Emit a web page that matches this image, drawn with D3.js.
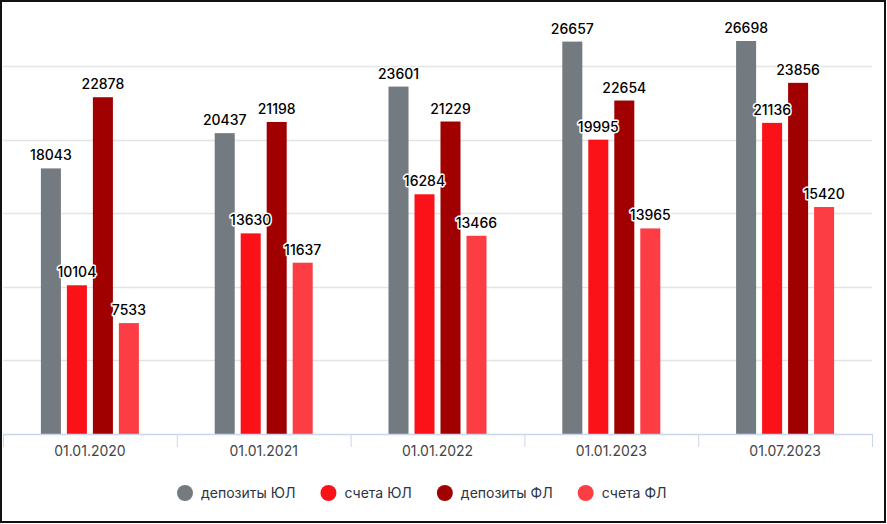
<!DOCTYPE html>
<html>
<head>
<meta charset="utf-8">
<script src="https://cdn.jsdelivr.net/npm/d3@7"></script>
<style>
  body { margin: 0; background: #fff; }
  svg { display: block; font-family: Inter, "Noto Sans", sans-serif; }
</style>
</head>
<body>
<div id="chart"></div>
<script>
var categories = ['01.01.2020', '01.01.2021', '01.01.2022', '01.01.2023', '01.07.2023'];
var seriesNames = ['депозиты ЮЛ', 'счета ЮЛ', 'депозиты ФЛ', 'счета ФЛ'];
var depositsUL = [18043, 20437, 23601, 26657, 26698];
var accountsUL = [10104, 13630, 16284, 19995, 21136];
var depositsFL = [22878, 21198, 21229, 22654, 23856];
var accountsFL = [7533, 11637, 13466, 13965, 15420];
var gridTicks = [5000, 10000, 15000, 20000, 25000];
var colors = ['#737a80', '#fb1219', '#a00000', '#fc3d43'];

var series = [depositsUL, accountsUL, depositsFL, accountsFL];

var chart_width = 887;
var chart_height = 524;
var plot_left = 3;
var plot_right = 872;
var base_y = 434;

var svg = d3.select('#chart')
  .append('svg')
  .attr('width', chart_width)
  .attr('height', chart_height);

// Scales
var xScale = d3.scaleBand()
  .domain(categories)
  .range([plot_left, plot_right]);

var xInner = d3.scaleBand()
  .domain(d3.range(series.length))
  .range([0, 98])
  .paddingInner(0.23);

var yScale = d3.scaleLinear()
  .domain([0, 25000])
  .range([base_y, 66]);

// Gridlines
svg.append('g')
  .selectAll('line')
  .data(gridTicks)
  .enter()
  .append('line')
  .attr('x1', plot_left)
  .attr('x2', plot_right)
  .attr('y1', d => Math.round(yScale(d)) + 0.5)
  .attr('y2', d => Math.round(yScale(d)) + 0.5)
  .attr('stroke', '#e4e4e4')
  .attr('stroke-width', 1.5);

// Bars
var groups = svg.selectAll('g.cat')
  .data(categories)
  .enter()
  .append('g')
  .attr('class', 'cat')
  .attr('transform', d => 'translate(' + (xScale(d) + (xScale.bandwidth() - 98) / 2) + ',0)');

groups.selectAll('rect')
  .data((d, i) => series.map((s, j) => ({ v: s[i], j: j })))
  .enter()
  .append('rect')
  .attr('x', d => xInner(d.j))
  .attr('y', d => yScale(d.v))
  .attr('width', xInner.bandwidth())
  .attr('height', d => base_y - yScale(d.v))
  .attr('fill', d => colors[d.j]);

// X axis
var xAxis = d3.axisBottom(xScale)
  .tickSize(0)
  .tickPadding(12);

var axisG = svg.append('g')
  .attr('transform', 'translate(0,' + base_y + ')')
  .call(xAxis);
axisG.select('.domain').attr('stroke', '#ccd6eb').attr('stroke-width', 1.5);
axisG.selectAll('text')
  .attr('font-size', 14)
  .attr('fill', '#444')
  .attr('font-family', 'Inter, sans-serif');

// tick marks on band edges
var edges = categories.map(c => xScale(c)).concat([plot_right]);
axisG.selectAll('line.edge')
  .data(edges)
  .enter()
  .append('line')
  .attr('class', 'edge')
  .attr('x1', d => d + 0.5)
  .attr('x2', d => d + 0.5)
  .attr('y1', 0)
  .attr('y2', 13)
  .attr('stroke', '#ccd6eb')
  .attr('stroke-width', 1);

// Data labels
groups.selectAll('text.lbl')
  .data((d, i) => series.map((s, j) => ({ v: s[i], j: j })))
  .enter()
  .append('text')
  .attr('class', 'lbl')
  .text(d => d.v)
  .attr('x', d => xInner(d.j) + xInner.bandwidth() / 2)
  .attr('y', d => yScale(d.v) - 8)
  .attr('text-anchor', 'middle')
  .attr('font-size', 14)
  .attr('font-weight', 500)
  .attr('fill', '#000')
  .attr('stroke', '#fff')
  .attr('stroke-width', 3)
  .attr('stroke-linejoin', 'round')
  .attr('paint-order', 'stroke');

// Legend
var legend = svg.append('g').attr('transform', 'translate(0,493)');
var items = legend.selectAll('g')
  .data(seriesNames)
  .enter()
  .append('g');
items.append('circle')
  .attr('r', 8)
  .attr('cx', 8)
  .attr('cy', 0)
  .attr('fill', (d, i) => colors[i]);
items.append('text')
  .text(d => d)
  .attr('x', 24)
  .attr('y', 5)
  .attr('font-size', 14)
  .attr('fill', '#2b3445');

var gap = 25;
var xpos = 0;
var offsets = [];
items.each(function () {
  offsets.push(xpos);
  var w = 24 + this.querySelector('text').getComputedTextLength();
  xpos += w + gap;
});
var startX = 177;
items.attr('transform', (d, i) => 'translate(' + (startX + offsets[i]) + ',0)');

// Frame
svg.append('rect')
  .attr('x', 1)
  .attr('y', 1)
  .attr('width', chart_width - 3)
  .attr('height', chart_height - 3)
  .attr('fill', 'none')
  .attr('stroke', '#111')
  .attr('stroke-width', 2);
</script>
</body>
</html>
